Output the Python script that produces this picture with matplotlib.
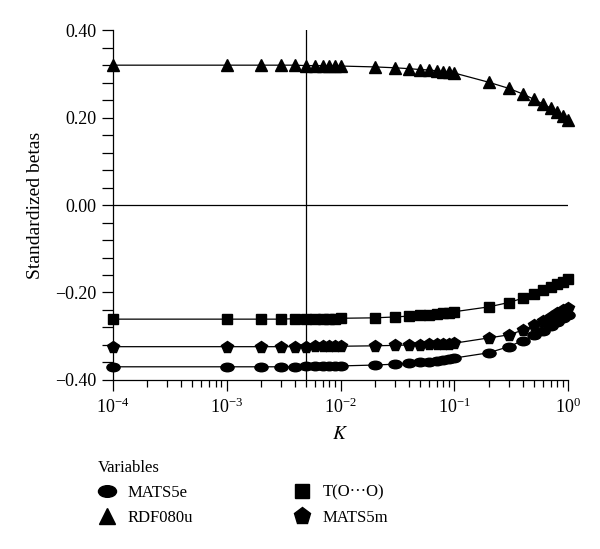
import numpy as np
import matplotlib.pyplot as plt
from matplotlib.path import Path
from matplotlib.transforms import Affine2D
from matplotlib.lines import Line2D
from matplotlib.ticker import MultipleLocator, LogLocator

plt.rcParams['font.family'] = 'Liberation Serif'
plt.rcParams['mathtext.fontset'] = 'stix'

# ridge parameter K
k_values = [0.0001,
            0.001, 0.002, 0.003, 0.004, 0.005, 0.006, 0.007, 0.008, 0.009, 0.01,
            0.02, 0.03, 0.04, 0.05, 0.06, 0.07, 0.08, 0.09, 0.1,
            0.2, 0.3, 0.4, 0.5, 0.6, 0.7, 0.8, 0.9, 1.0]

rdf080u = [0.320,
           0.320, 0.320, 0.320, 0.320, 0.319, 0.319, 0.319, 0.319, 0.319, 0.318,
           0.316, 0.314, 0.312, 0.310, 0.309, 0.307, 0.305, 0.304, 0.302,
           0.281, 0.267, 0.254, 0.242, 0.231, 0.222, 0.213, 0.203, 0.194]

t_oo = [-0.261,
        -0.261, -0.261, -0.261, -0.260, -0.260, -0.260, -0.260, -0.260, -0.260, -0.259,
        -0.258, -0.256, -0.254, -0.252, -0.251, -0.249, -0.248, -0.246, -0.244,
        -0.233, -0.223, -0.213, -0.204, -0.195, -0.187, -0.181, -0.175, -0.169]

mats5m = [-0.324,
          -0.324, -0.324, -0.324, -0.324, -0.324, -0.323, -0.323, -0.323, -0.323, -0.323,
          -0.322, -0.321, -0.320, -0.320, -0.319, -0.318, -0.317, -0.317, -0.316,
          -0.304, -0.297, -0.286, -0.275, -0.265, -0.256, -0.248, -0.241, -0.235]

mats5e = [-0.370,
          -0.370, -0.370, -0.370, -0.370, -0.369, -0.369, -0.369, -0.369, -0.369, -0.368,
          -0.366, -0.364, -0.362, -0.360, -0.358, -0.356, -0.354, -0.352, -0.350,
          -0.338, -0.324, -0.310, -0.298, -0.287, -0.277, -0.268, -0.259, -0.251]

labels = ['MATS5e', 'RDF080u', 'T(O\u00b7\u00b7\u00b7O)', 'MATS5m']

# ellipse marker
ellipse = Affine2D().scale(1.55, 1.0).transform_path(Path.unit_circle())

fig = plt.figure(figsize=(6.0, 5.49), dpi=100)
ax = fig.add_axes([0.188, 0.308, 0.759, 0.637])

ax.plot(k_values, mats5e, color='black', lw=0.9, marker=ellipse, ms=9.5, clip_on=False)
ax.plot(k_values, rdf080u, color='black', lw=0.9, marker='^', ms=8.5, clip_on=False)
ax.plot(k_values, t_oo, color='black', lw=0.9, marker='s', ms=6.5, clip_on=False)
ax.plot(k_values, mats5m, color='black', lw=0.9, marker='p', ms=8.5, clip_on=False)

ax.axhline(0, color='black', lw=0.9)
ax.axvline(0.005, color='black', lw=0.9)

ax.set_xscale('log')
ax.set_xlim(1e-4, 1)
ax.set_ylim(-0.40, 0.40)
ax.yaxis.set_major_locator(MultipleLocator(0.2))
ax.yaxis.set_minor_locator(MultipleLocator(0.04))
ax.yaxis.set_major_formatter(plt.FuncFormatter(lambda v, p: f'{v:.2f}'.replace('-', '\u2212')))
ax.xaxis.set_minor_locator(LogLocator(base=10, subs=np.arange(2, 10)))

for s in ['top', 'right']:
    ax.spines[s].set_visible(False)
ax.spines['left'].set_linewidth(0.9)
ax.spines['bottom'].set_linewidth(0.9)
ax.tick_params(which='both', direction='out', width=0.9, labelsize=13)
ax.tick_params(axis='y', which='both', length=8)
ax.tick_params(axis='x', which='major', length=8, pad=5)
ax.tick_params(axis='x', which='minor', length=5)

ax.set_xlabel('$K$', fontsize=14, labelpad=6)
ax.set_ylabel('Standardized betas', fontsize=14, labelpad=8)

handles = [
    Line2D([], [], color='black', ls='none', marker=ellipse, ms=13),
    Line2D([], [], color='black', ls='none', marker='^', ms=12),
    Line2D([], [], color='black', ls='none', marker='s', ms=10),
    Line2D([], [], color='black', ls='none', marker='p', ms=12.5),
]
leg = fig.legend(handles, labels, ncol=2, title='Variables', loc='upper left',
                 bbox_to_anchor=(0.163, 0.163), frameon=False, fontsize=12,
                 title_fontsize=12, handlelength=1.15, handletextpad=0.65,
                 columnspacing=5.95, labelspacing=0.55, borderpad=0,
                 borderaxespad=0)
leg._legend_box.align = 'left'

fig.savefig('out.png', dpi=100)
